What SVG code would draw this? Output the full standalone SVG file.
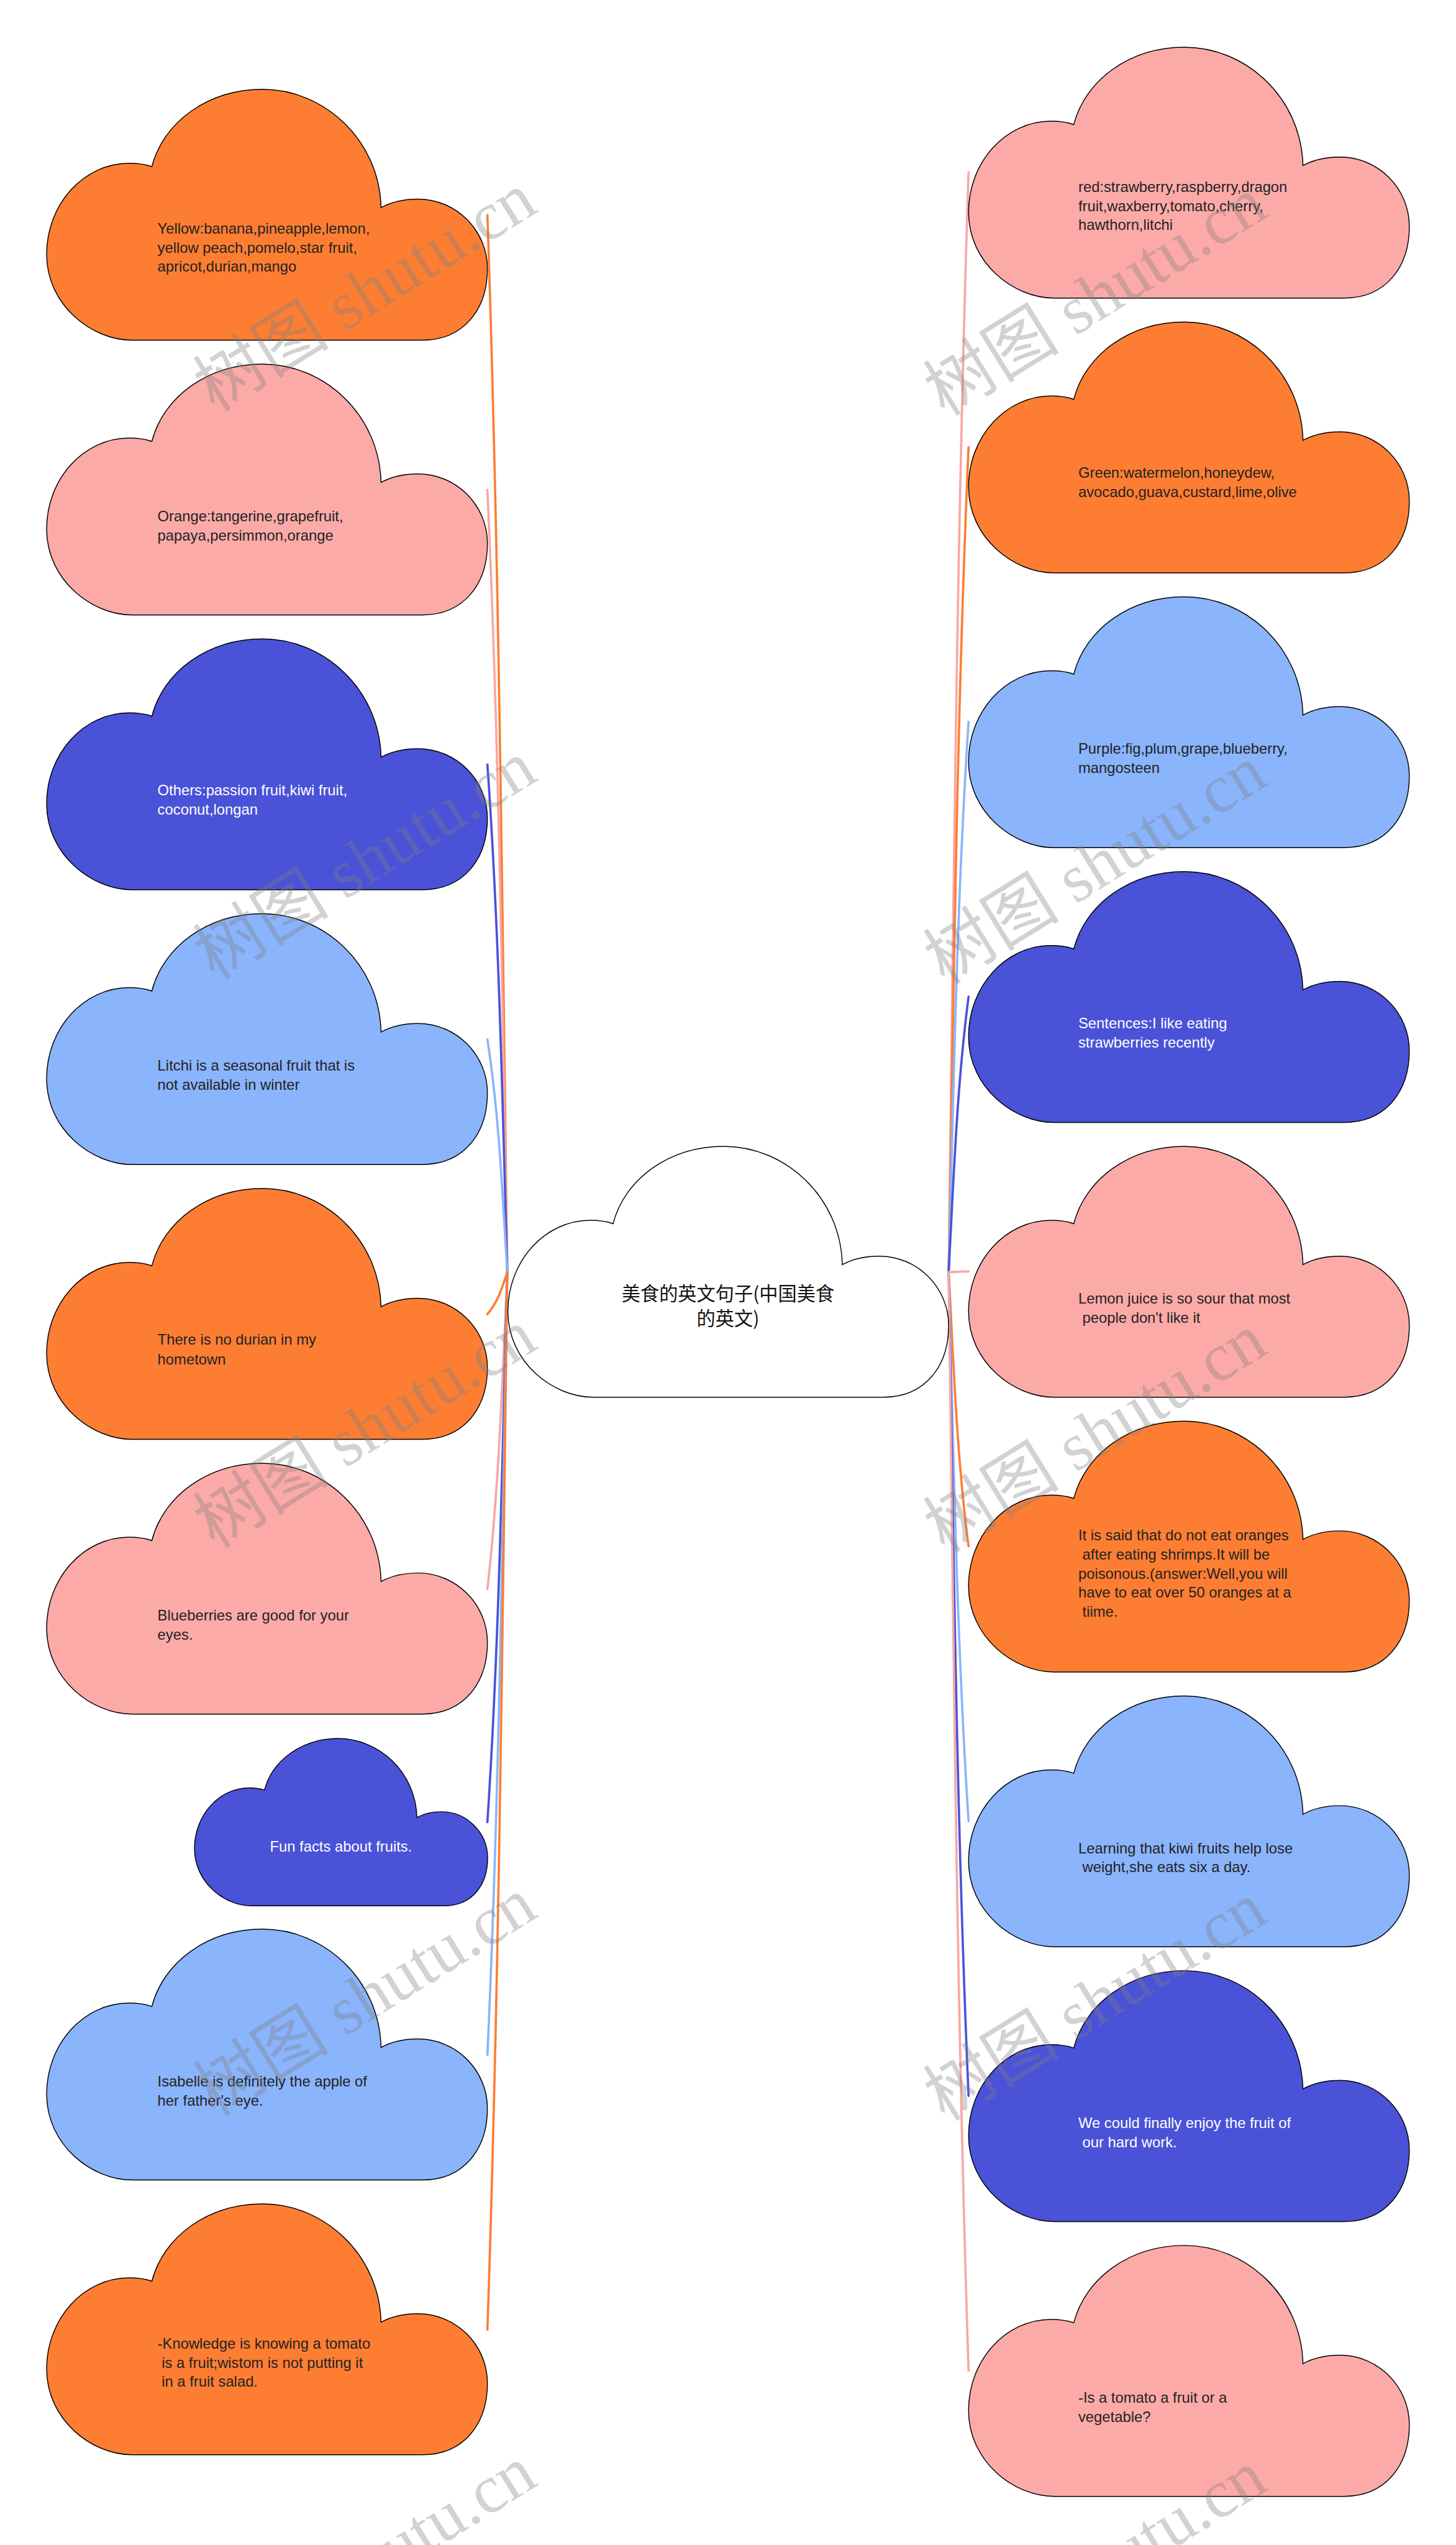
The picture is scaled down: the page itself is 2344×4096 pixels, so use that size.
<svg xmlns="http://www.w3.org/2000/svg" xmlns:xlink="http://www.w3.org/1999/xlink" width="2344" height="4096" viewBox="0 0 2344 4096">
<defs>
<style>
.cl{stroke:#000;stroke-width:1.6}
.or{fill:#FD7E33}.pk{fill:#FCAAA8}.db{fill:#4A52D8}.lb{fill:#8AB4FC}.wh{fill:#fff}
.t{font-family:"Liberation Sans",Arial,sans-serif;font-size:26px;fill:#222}
.tw{fill:#fff}
.root{font-family:"Noto Sans CJK SC","Liberation Sans",sans-serif;font-size:33px;fill:#111;text-anchor:middle}
.c{fill:none;stroke-width:4;stroke-linecap:round}
.co{stroke:#FD7E33}.cp{stroke:#F7A7A5}.cd{stroke:#4A52D8}.cb{stroke:#8AB4FC}
.wm{font-family:"Liberation Serif","Noto Sans CJK SC",serif;font-size:120px;fill:#808080;opacity:.35;text-anchor:middle}
</style>
<path id="cloud" d="M150 441 C80 441 0 380 0 290 C0 202 65 130 145 130 C160 130 174 132 185 136 C205 58 283 0 380 0 C487 0 585 88 588 208 C606 198 628 193 653 193 C720 193 775 248 775 315 C775 385 735 441 660 441 Z"/>
</defs>
<rect width="2344" height="4096" fill="#fff"/>
<g transform="scale(0.9156)">
<g id="connectors">
<path class="c co" d="M857 378 C878 997.3 883.25 1616.7 892 2236"/>
<path class="c cp" d="M857 861 C878 1319.3 883.25 1777.7 892 2236"/>
<path class="c cd" d="M857 1344 C878 1641.3 883.25 1938.7 892 2236"/>
<path class="c cb" d="M857 1827 C878 1963.3 883.25 2099.7 892 2236"/>
<path class="c co" d="M857 2310 C878 2285.3 883.25 2260.7 892 2236"/>
<path class="c cp" d="M857 2793 C878 2607.3 883.25 2421.7 892 2236"/>
<path class="c cd" d="M857 3203 C878 2880.7 883.25 2558.3 892 2236"/>
<path class="c cb" d="M857 3612 C878 3153.3 883.25 2694.7 892 2236"/>
<path class="c co" d="M857 4095 C878 3475.3 883.25 2855.7 892 2236"/>
<path class="c cp" d="M1703 303 C1682 947.3 1676.75 1591.7 1668 2236"/>
<path class="c co" d="M1703 786 C1682 1269.3 1676.75 1752.7 1668 2236"/>
<path class="c cb" d="M1703 1269 C1682 1591.3 1676.75 1913.7 1668 2236"/>
<path class="c cd" d="M1703 1752 C1682 1913.3 1676.75 2074.7 1668 2236"/>
<path class="c cp" d="M1703 2235 C1682 2235.3 1676.75 2235.7 1668 2236"/>
<path class="c co" d="M1703 2718 C1682 2557.3 1676.75 2396.7 1668 2236"/>
<path class="c cb" d="M1703 3201 C1682 2879.3 1676.75 2557.7 1668 2236"/>
<path class="c cd" d="M1703 3684 C1682 3201.3 1676.75 2718.7 1668 2236"/>
<path class="c cp" d="M1703 4167 C1682 3523.3 1676.75 2879.7 1668 2236"/>
</g>
<g id="root">
<use href="#cloud" class="cl wh" transform="translate(893,2015)"/>
<text class="root" x="1280" y="2286">美食的英文句子(中国美食</text>
<text class="root" x="1280" y="2330">的英文)</text>
</g>
<g id="L1"><use href="#cloud" class="cl or" transform="translate(82,157)"/>
<text class="t" x="277" y="410.5">Yellow:banana,pineapple,lemon,</text>
<text class="t" x="277" y="444">yellow peach,pomelo,star fruit,</text>
<text class="t" x="277" y="477.5">apricot,durian,mango</text></g>
<g id="L2"><use href="#cloud" class="cl pk" transform="translate(82,640)"/>
<text class="t" x="277" y="916">Orange:tangerine,grapefruit,</text>
<text class="t" x="277" y="950">papaya,persimmon,orange</text></g>
<g id="L3"><use href="#cloud" class="cl db" transform="translate(82,1123)"/>
<text class="t tw" x="277" y="1398">Others:passion fruit,kiwi fruit,</text>
<text class="t tw" x="277" y="1432">coconut,longan</text></g>
<g id="L4"><use href="#cloud" class="cl lb" transform="translate(82,1606)"/>
<text class="t" x="277" y="1882">Litchi is a seasonal fruit that is</text>
<text class="t" x="277" y="1916">not available in winter</text></g>
<g id="L5"><use href="#cloud" class="cl or" transform="translate(82,2089)"/>
<text class="t" x="277" y="2364">There is no durian in my</text>
<text class="t" x="277" y="2398">hometown</text></g>
<g id="L6"><use href="#cloud" class="cl pk" transform="translate(82,2572)"/>
<text class="t" x="277" y="2848">Blueberries are good for your</text>
<text class="t" x="277" y="2882">eyes.</text></g>
<g id="L7"><use href="#cloud" class="cl db" style="stroke-width:2.4" transform="translate(342,3056) scale(0.665,0.6667)"/>
<text class="t tw" x="599.5" y="3255" text-anchor="middle">Fun facts about fruits.</text></g>
<g id="L8"><use href="#cloud" class="cl lb" transform="translate(82,3391)"/>
<text class="t" x="277" y="3667">Isabelle is definitely the apple of</text>
<text class="t" x="277" y="3701">her father's eye.</text></g>
<g id="L9"><use href="#cloud" class="cl or" transform="translate(82,3874)"/>
<text class="t" x="277" y="4128.5">-Knowledge is knowing a tomato</text>
<text class="t" x="277" y="4162" xml:space="preserve"> is a fruit;wistom is not putting it</text>
<text class="t" x="277" y="4195.5" xml:space="preserve"> in a fruit salad.</text></g>
<g id="R1"><use href="#cloud" class="cl pk" transform="translate(1703,83)"/>
<text class="t" x="1896" y="337.5">red:strawberry,raspberry,dragon</text>
<text class="t" x="1896" y="371">fruit,waxberry,tomato,cherry,</text>
<text class="t" x="1896" y="404.5">hawthorn,litchi</text></g>
<g id="R2"><use href="#cloud" class="cl or" transform="translate(1703,566)"/>
<text class="t" x="1896" y="840">Green:watermelon,honeydew,</text>
<text class="t" x="1896" y="874">avocado,guava,custard,lime,olive</text></g>
<g id="R3"><use href="#cloud" class="cl lb" transform="translate(1703,1049)"/>
<text class="t" x="1896" y="1325">Purple:fig,plum,grape,blueberry,</text>
<text class="t" x="1896" y="1359">mangosteen</text></g>
<g id="R4"><use href="#cloud" class="cl db" transform="translate(1703,1532)"/>
<text class="t tw" x="1896" y="1808">Sentences:I like eating</text>
<text class="t tw" x="1896" y="1841">strawberries recently</text></g>
<g id="R5"><use href="#cloud" class="cl pk" transform="translate(1703,2015)"/>
<text class="t" x="1896" y="2291">Lemon juice is so sour that most</text>
<text class="t" x="1896" y="2325" xml:space="preserve"> people don't like it</text></g>
<g id="R6"><use href="#cloud" class="cl or" transform="translate(1703,2498)"/>
<text class="t" x="1896" y="2708">It is said that do not eat oranges</text>
<text class="t" x="1896" y="2741.5" xml:space="preserve"> after eating shrimps.It will be</text>
<text class="t" x="1896" y="2775">poisonous.(answer:Well,you will</text>
<text class="t" x="1896" y="2808.5">have to eat over 50 oranges at a</text>
<text class="t" x="1896" y="2842" xml:space="preserve"> tiime.</text></g>
<g id="R7"><use href="#cloud" class="cl lb" transform="translate(1703,2981)"/>
<text class="t" x="1896" y="3258">Learning that kiwi fruits help lose</text>
<text class="t" x="1896" y="3291" xml:space="preserve"> weight,she eats six a day.</text></g>
<g id="R8"><use href="#cloud" class="cl db" transform="translate(1703,3464)"/>
<text class="t tw" x="1896" y="3741">We could finally enjoy the fruit of</text>
<text class="t tw" x="1896" y="3775" xml:space="preserve"> our hard work.</text></g>
<g id="R9"><use href="#cloud" class="cl pk" transform="translate(1703,3947)"/>
<text class="t" x="1896" y="4224">-Is a tomato a fruit or a</text>
<text class="t" x="1896" y="4257">vegetable?</text></g>
<g id="watermark">
<text class="wm" transform="translate(642,514) rotate(-31.8)" y="40">树图 shutu.cn</text>
<text class="wm" transform="translate(642,1513) rotate(-31.8)" y="40">树图 shutu.cn</text>
<text class="wm" transform="translate(642,2512) rotate(-31.8)" y="40">树图 shutu.cn</text>
<text class="wm" transform="translate(642,3511) rotate(-31.8)" y="40">树图 shutu.cn</text>
<text class="wm" transform="translate(642,4510) rotate(-31.8)" y="40">树图 shutu.cn</text>
<text class="wm" transform="translate(1926,522) rotate(-31.8)" y="40">树图 shutu.cn</text>
<text class="wm" transform="translate(1926,1521) rotate(-31.8)" y="40">树图 shutu.cn</text>
<text class="wm" transform="translate(1926,2520) rotate(-31.8)" y="40">树图 shutu.cn</text>
<text class="wm" transform="translate(1926,3519) rotate(-31.8)" y="40">树图 shutu.cn</text>
<text class="wm" transform="translate(1926,4518) rotate(-31.8)" y="40">树图 shutu.cn</text>
</g>
</g>
</svg>
